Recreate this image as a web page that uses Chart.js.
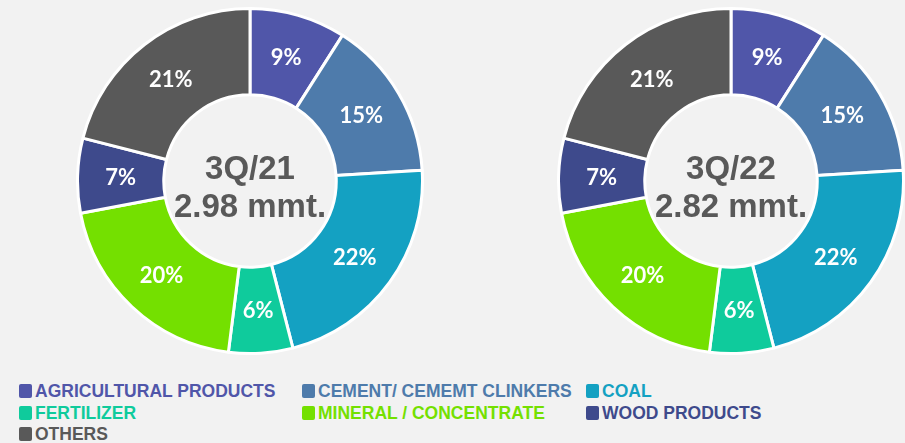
<!DOCTYPE html>
<html lang="en">
<head>
    <meta charset="UTF-8">
    <title>Cargo Mix 3Q/21 vs 3Q/22</title>
    <script src="https://cdn.jsdelivr.net/npm/chart.js"></script>
    <style>
        html, body {
            margin: 0;
            padding: 0;
            background: #f2f2f2;
            width: 905px;
            height: 443px;
            overflow: hidden;
        }
        .chart-box {
            position: absolute;
            width: 348px;
            height: 348px;
        }
        #legend {
            position: absolute;
            left: 19px;
            top: 381px;
            width: 880px;
            font-family: "Liberation Sans", Arial, sans-serif;
            font-weight: bold;
            font-size: 17.5px;
        }
        .legend-item {
            position: absolute;
            white-space: nowrap;
            line-height: 20px;
        }
        .legend-item span.box {
            display: inline-block;
            width: 13px;
            height: 14px;
            border-radius: 2px;
            margin-right: 3px;
            vertical-align: -1px;
        }
    </style>
</head>
<body>
<div class="chart-box" style="left: 76px; top: 7px;">
    <canvas id="chart21" width="348" height="348"></canvas>
</div>
<div class="chart-box" style="left: 557px; top: 7px;">
    <canvas id="chart22" width="348" height="348"></canvas>
</div>
<div id="legend"></div>

<script>
    const categories = ['AGRICULTURAL PRODUCTS', 'CEMENT/ CEMEMT CLINKERS', 'COAL', 'FERTILIZER',
        'MINERAL / CONCENTRATE', 'WOOD PRODUCTS', 'OTHERS'];
    const share3Q21 = [9, 15, 22, 6, 20, 7, 21];
    const share3Q22 = [9, 15, 22, 6, 20, 7, 21];
    const colors = ['#5056a9', '#4e7bab', '#14a1c2', '#0fcb9c', '#74e000', '#3e4a8c', '#595959'];

    // slice labels + center text
    const labelPlugin = {
        id: 'sliceLabels',
        afterDatasetsDraw(chart, args, opts) {
            const ctx = chart.ctx;
            const meta = chart.getDatasetMeta(0);
            ctx.save();
            ctx.fillStyle = '#ffffff';
            ctx.font = 'bold 22px Lato, "DejaVu Sans", sans-serif';
            ctx.textAlign = 'center';
            ctx.textBaseline = 'middle';
            meta.data.forEach((arc, i) => {
                const p = arc.tooltipPosition();
                ctx.fillText(chart.data.datasets[0].data[i] + '%', p.x, p.y + 1);
            });
            const cx = (chart.chartArea.left + chart.chartArea.right) / 2;
            const cy = (chart.chartArea.top + chart.chartArea.bottom) / 2;
            ctx.fillStyle = '#595959';
            ctx.font = 'bold 33px "Liberation Sans", Arial, sans-serif';
            ctx.fillText(opts.title, cx, cy - 11);
            ctx.fillText(opts.total, cx, cy + 27);
            ctx.restore();
        }
    };

    function createDonut(id, values, title, total) {
        const ctx = document.getElementById(id).getContext('2d');
        new Chart(ctx, {
            type: 'doughnut',
            data: {
                labels: categories,
                datasets: [{
                    data: values,
                    backgroundColor: colors,
                    borderColor: '#ffffff',
                    borderWidth: 3
                }]
            },
            options: {
                responsive: false,
                animation: false,
                cutout: '50%',
                layout: { padding: 0 },
                plugins: {
                    legend: { display: false },
                    tooltip: { enabled: false },
                    sliceLabels: { title: title, total: total }
                }
            },
            plugins: [labelPlugin]
        });
    }

    createDonut('chart21', share3Q21, '3Q/21', '2.98 mmt.');
    createDonut('chart22', share3Q22, '3Q/22', '2.82 mmt.');

    // legend, 3 columns
    const legendCols = [0, 283, 567];
    const legend = document.getElementById('legend');
    categories.forEach((name, i) => {
        const item = document.createElement('div');
        item.className = 'legend-item';
        item.style.left = legendCols[i % 3] + 'px';
        item.style.top = (Math.floor(i / 3) * 21.5) + 'px';
        item.style.color = colors[i];
        item.innerHTML = '<span class="box" style="background:' + colors[i] + '"></span>' + name;
        legend.appendChild(item);
    });
</script>
</body>
</html>
